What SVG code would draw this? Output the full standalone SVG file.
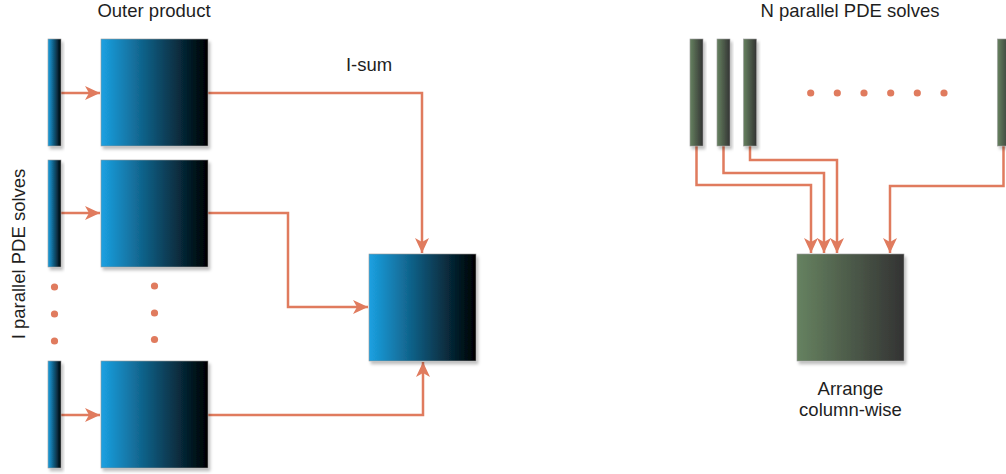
<svg xmlns="http://www.w3.org/2000/svg" width="1006" height="474" viewBox="0 0 1006 474">
<style>
text{font-family:"Liberation Sans",Arial,sans-serif;font-size:18.5px;fill:#1e1e1e}
.b{fill:url(#gb);stroke:#9a9a9a;stroke-width:0.6;filter:url(#sh)}
.g{fill:url(#gg);stroke:#9a9a9a;stroke-width:0.6;filter:url(#sh)}
.c{fill:none;stroke:#E07B5E;stroke-width:2.5;marker-end:url(#ah)}
.d{fill:#E07B5E}
</style>
<defs>
<linearGradient id="gb" x1="0" y1="0" x2="1" y2="0"><stop offset="0" stop-color="#1BA1E2"/><stop offset="1" stop-color="#000000"/></linearGradient>
<linearGradient id="gg" x1="0" y1="0" x2="1" y2="0"><stop offset="0" stop-color="#668260"/><stop offset="1" stop-color="#333333"/></linearGradient>
<filter id="sh" x="-20%" y="-20%" width="150%" height="150%"><feDropShadow dx="2" dy="3" stdDeviation="1.8" flood-color="#000" flood-opacity="0.25"/></filter>
<marker id="ah" viewBox="0 0 16 16" refX="15" refY="8" markerWidth="16" markerHeight="16" markerUnits="userSpaceOnUse" orient="auto"><path d="M0,1 L15,8 L0,15 L4,8 Z" fill="#E07B5E"/></marker>
</defs>
<g id="labels">
<text x="154" y="17" text-anchor="middle">Outer product</text>
<text x="369" y="71" text-anchor="middle">I-sum</text>
<text x="850" y="17" text-anchor="middle">N parallel PDE solves</text>
<text transform="translate(25,254) rotate(-90)" text-anchor="middle">I parallel PDE solves</text>
</g>
<g id="connectors">
<path class="c" d="M61,93 H100"/>
<path class="c" d="M61,213 H100"/>
<path class="c" d="M61,415 H100"/>
<path class="c" d="M208,93 H422 V253"/>
<path class="c" d="M208,213 H288 V307 H368"/>
<path class="c" d="M208,415 H423 V362"/>
<path class="c" d="M696.5,146 V185 H811 V253"/>
<path class="c" d="M723.5,146 V173 H824 V253"/>
<path class="c" d="M750,146 V160 H837 V253"/>
<path class="c" d="M1003.5,146 V186 H890 V253"/>
</g>
<g id="dots">
<circle class="d" cx="54.5" cy="287" r="3.6"/><circle class="d" cx="54.5" cy="314" r="3.6"/><circle class="d" cx="54.5" cy="341" r="3.6"/>
<circle class="d" cx="154.5" cy="286" r="3.6"/><circle class="d" cx="154.5" cy="313" r="3.6"/><circle class="d" cx="154.5" cy="339.5" r="3.6"/>
<circle class="d" cx="810.7" cy="93" r="3.6"/><circle class="d" cx="837.3" cy="93" r="3.6"/><circle class="d" cx="864" cy="93" r="3.6"/><circle class="d" cx="890.7" cy="93" r="3.6"/><circle class="d" cx="917.3" cy="93" r="3.6"/><circle class="d" cx="944" cy="93" r="3.6"/>
</g>
<g id="vec1"><rect class="b" x="48" y="39" width="13" height="107"/></g>
<g id="vec2"><rect class="b" x="48" y="160" width="13" height="107"/></g>
<g id="vec3"><rect class="b" x="48" y="361" width="13" height="107"/></g>
<g id="outer1"><rect class="b" x="101" y="39" width="107" height="107"/></g>
<g id="outer2"><rect class="b" x="101" y="160" width="107" height="107"/></g>
<g id="outer3"><rect class="b" x="101" y="361" width="107" height="107"/></g>
<g id="sum"><rect class="b" x="369" y="254" width="107" height="107"/></g>
<g id="col1"><rect class="g" x="690" y="39" width="13" height="107"/></g>
<g id="col2"><rect class="g" x="717" y="39" width="13" height="107"/></g>
<g id="col3"><rect class="g" x="743.5" y="39" width="13" height="107"/></g>
<g id="colN"><rect class="g" x="997.5" y="39" width="13" height="107"/></g>
<g id="arrange"><rect class="g" x="797" y="254" width="107" height="107"/>
<text x="850.5" y="395" text-anchor="middle">Arrange</text>
<text x="850.5" y="416" text-anchor="middle">column-wise</text></g>
</svg>
